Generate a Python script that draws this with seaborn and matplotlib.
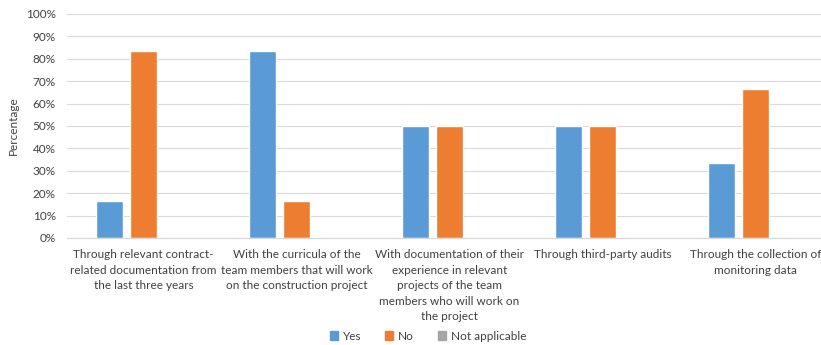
import matplotlib
matplotlib.use("Agg")
import matplotlib.pyplot as plt
import seaborn as sns
import pandas as pd
import numpy as np
from matplotlib.ticker import PercentFormatter, FixedLocator

categories = [
    "Through relevant contract-\nrelated documentation from\nthe last three years",
    "With the curricula of the\nteam members that will work\non the construction project",
    "With documentation of their\nexperience in relevant\nprojects of the team\nmembers who will work on\nthe project",
    "Through third-party audits",
    "Through the collection of\nmonitoring data",
]
series = ["Yes", "No", "Not applicable"]
yes_vals = [16.7, 83.3, 50.0, 50.0, 33.3]
no_vals = [83.3, 16.7, 50.0, 50.0, 66.7]
na_vals = [0.0, 0.0, 0.0, 0.0, 0.0]
colors = ["#5B9BD5", "#ED7D31", "#A5A5A5"]

df = pd.DataFrame({
    "category": categories * 3,
    "answer": [s for s in series for _ in categories],
    "value": yes_vals + no_vals + na_vals,
})

sns.set_theme(style="white")
plt.rcParams["font.family"] = ["Lato", "DejaVu Sans"]
text_color = "#404040"

fig = plt.figure(figsize=(8.21, 3.45), dpi=100)
ax = fig.add_axes([67 / 821, 107 / 345, 765 / 821, 224 / 345])

sns.barplot(data=df, x="category", y="value", hue="answer", hue_order=series,
            palette=colors, width=0.667, gap=0.23, ax=ax, legend=False,
            errorbar=None, saturation=1)

ax.set_ylim(0, 100)
ax.set_xlim(-0.5, len(categories) - 0.5)
ax.yaxis.set_major_locator(FixedLocator(np.arange(0, 101, 10)))
ax.yaxis.set_major_formatter(PercentFormatter(decimals=0))
ax.grid(axis="y", color="#d9d9d9", linewidth=0.8)
ax.set_axisbelow(True)
for side in ["top", "right", "left"]:
    ax.spines[side].set_visible(False)
ax.spines["bottom"].set_color("#d9d9d9")
ax.spines["bottom"].set_linewidth(0.9)

ax.set_xlabel("")
ax.set_ylabel("Percentage", fontsize=8.5, color=text_color, labelpad=5)
ax.tick_params(axis="y", length=0, labelsize=8.5, labelcolor=text_color, pad=8)
ax.tick_params(axis="x", which="major", length=0, labelsize=8.5,
               labelcolor=text_color, pad=8)
ax.set_xticks(range(len(categories)))
ax.set_xticklabels(categories, linespacing=1.5, va="top")
ax.xaxis.set_minor_locator(FixedLocator(np.arange(-0.5, len(categories), 1.0)))
ax.tick_params(axis="x", which="minor", length=5, color="#d9d9d9", width=0.9)

handles = [plt.Rectangle((0, 0), 1, 1, color=c) for c in colors]
fig.legend(handles, series, loc="center", bbox_to_anchor=(428 / 821, 9 / 345),
           ncol=3, frameon=False, fontsize=8.5, handlelength=0.7,
           handleheight=0.7, handletextpad=0.4, columnspacing=2.0,
           labelcolor=text_color)

fig.savefig("out.png", dpi=100)
